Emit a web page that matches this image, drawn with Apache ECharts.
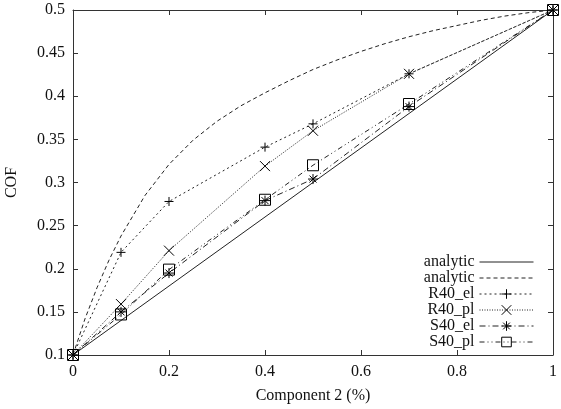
<!DOCTYPE html>
<html>
<head>
<meta charset="utf-8">
<script src="https://cdn.jsdelivr.net/npm/echarts@6/dist/echarts.min.js"></script>
<style>
html,body{margin:0;padding:0;background:#fff;}
#chart{width:561px;height:409px;}
</style>
</head>
<body>
<div id="chart"></div>
<script>
// ---- data ----
const seriesNames = ['analytic_lin', 'analytic_curve', 'R40_el', 'R40_pl', 'S40_el', 'S40_pl'];
const legendLabels = ['analytic', 'analytic', 'R40_el', 'R40_pl', 'S40_el', 'S40_pl'];

const linX = [0, 1];
const linY = [0.1, 0.5];

const curveX = [0, 0.025, 0.05, 0.075, 0.1, 0.15, 0.2, 0.25, 0.3, 0.35, 0.4, 0.45, 0.5, 0.55, 0.6, 0.65, 0.7, 0.75, 0.8, 0.85, 0.9, 0.95, 1];
const curveY = [0.1, 0.142, 0.178, 0.21, 0.238, 0.285, 0.321, 0.349, 0.371, 0.389, 0.404, 0.418, 0.431, 0.442, 0.452, 0.461, 0.469, 0.476, 0.482, 0.488, 0.493, 0.497, 0.5];

const expX = [0, 0.1, 0.2, 0.4, 0.5, 0.7, 1];
const r40elY = [0.1, 0.219, 0.278, 0.341, 0.368, 0.426, 0.5];
const r40plY = [0.1, 0.159, 0.221, 0.319, 0.360, 0.426, 0.5];
const s40elY = [0.1, 0.150, 0.195, 0.279, 0.304, 0.388, 0.5];
const s40plY = [0.1, 0.147, 0.199, 0.280, 0.320, 0.391, 0.5];

const xTicks = [0, 0.2, 0.4, 0.6, 0.8, 1];
const yTicks = [0.1, 0.15, 0.2, 0.25, 0.3, 0.35, 0.4, 0.45, 0.5];

// ---- build ----
const pairs = (xs, ys) => xs.map((x, i) => [x, ys[i]]);
const FONT = '"Liberation Serif", "DejaVu Serif", serif';
const LC = '#222';

const SYM = {
  plus: 'path://M0,5L10,5M5,0L5,10',
  cross: 'path://M0,0L10,10M10,0L0,10',
  star: 'path://M0,5L10,5M5,0L5,10M1.5,1.5L8.5,8.5M8.5,1.5L1.5,8.5',
  square: 'path://M0,0L10,0L10,10L0,10Z'
};

function lineSeries(name, data, dash, symbol, symSize) {
  return {
    name: name,
    type: 'line',
    data: data,
    symbol: symbol || 'none',
    symbolSize: symSize || 10,
    showSymbol: !!symbol,
    showAllSymbol: true,
    lineStyle: { color: LC, width: 1, type: dash },
    itemStyle: { color: 'rgba(0,0,0,0)', borderColor: '#000', borderWidth: 1 },
    emphasis: { disabled: true },
    animation: false
  };
}

const chart = echarts.init(document.getElementById('chart'), null, { renderer: 'canvas' });

const axisCommon = {
  axisLine: { show: true, onZero: false, lineStyle: { color: '#333', width: 1 } },
  axisTick: { show: true, inside: true, length: 5, lineStyle: { color: '#333' } },
  splitLine: { show: false },
  axisLabel: { fontFamily: FONT, fontSize: 16, color: '#111' }
};

const legendData = seriesNames.map((n, i) => (
  i < 2 ? { name: n, itemStyle: { opacity: 0 } } : { name: n }
));

chart.setOption({
  backgroundColor: '#fff',
  animation: false,
  grid: { left: 73, right: 8, top: 10, bottom: 54, containLabel: false, outerBoundsMode: 'none' },
  xAxis: [
    Object.assign({}, axisCommon, {
      type: 'value', min: xTicks[0], max: xTicks[xTicks.length - 1], interval: 0.2,
      position: 'bottom',
      name: 'Component 2 (%)', nameLocation: 'middle', nameGap: 33,
      nameTextStyle: { fontFamily: FONT, fontSize: 16, color: '#111' },
      axisLabel: Object.assign({}, axisCommon.axisLabel, { margin: 9 })
    }),
    Object.assign({}, axisCommon, {
      type: 'value', min: xTicks[0], max: xTicks[xTicks.length - 1], interval: 0.2,
      position: 'top', axisLabel: { show: false }
    })
  ],
  yAxis: [
    Object.assign({}, axisCommon, {
      type: 'value', min: yTicks[0], max: yTicks[yTicks.length - 1], interval: 0.05,
      position: 'left',
      name: 'COF', nameLocation: 'middle', nameGap: 53, nameRotate: 90,
      nameTextStyle: { fontFamily: FONT, fontSize: 16, color: '#111' },
      axisLabel: Object.assign({}, axisCommon.axisLabel, { margin: 8 })
    }),
    Object.assign({}, axisCommon, {
      type: 'value', min: yTicks[0], max: yTicks[yTicks.length - 1], interval: 0.05,
      position: 'right', axisLabel: { show: false }
    })
  ],
  legend: {
    orient: 'vertical',
    right: 27,
    top: 254,
    align: 'right',
    itemWidth: 54,
    itemHeight: 12,
    itemGap: 0,
    padding: 0,
    selectedMode: false,
    data: legendData,
    lineStyle: { width: 1 },
    itemStyle: { borderWidth: 1 },
    formatter: function (n) { return legendLabels[seriesNames.indexOf(n)]; },
    textStyle: { fontFamily: FONT, fontSize: 16, color: '#111', padding: [0, 0, 0, 0] }
  },
  series: [
    lineSeries(seriesNames[0], pairs(linX, linY), 'solid'),
    lineSeries(seriesNames[1], pairs(curveX, curveY), [4, 3]),
    lineSeries(seriesNames[2], pairs(expX, r40elY), [2, 3], SYM.plus, 9),
    lineSeries(seriesNames[3], pairs(expX, r40plY), [1, 1.5], SYM.cross, 10),
    lineSeries(seriesNames[4], pairs(expX, s40elY), [6, 3, 1, 3], SYM.star, 10),
    lineSeries(seriesNames[5], pairs(expX, s40plY), [5, 3, 1, 3, 1, 3], SYM.square, 11)
  ]
});
</script>
</body>
</html>
